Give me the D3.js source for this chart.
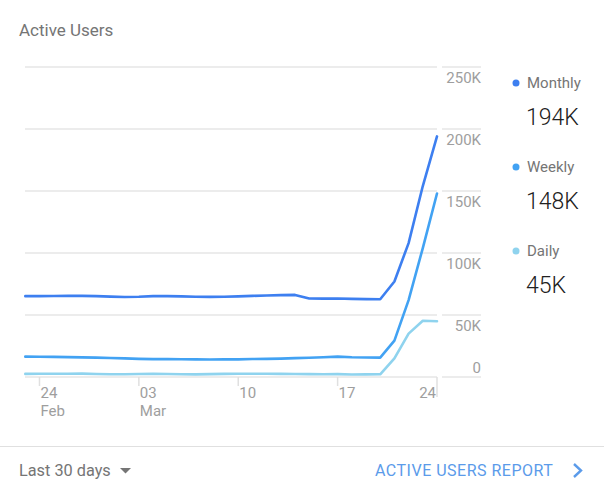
<!DOCTYPE html>
<html><head><meta charset="utf-8">
<script src="https://cdn.jsdelivr.net/npm/d3@7"></script>
<style>
html,body{margin:0;padding:0;background:#fff;}
svg{display:block;font-family:Roboto,"Open Sans",sans-serif;}
</style></head>
<body>
<svg id="c" width="604" height="491"></svg>
<script>
const dates = ["2019-02-23","2019-02-24","2019-02-25","2019-02-26","2019-02-27","2019-02-28",
"2019-03-01","2019-03-02","2019-03-03","2019-03-04","2019-03-05","2019-03-06","2019-03-07",
"2019-03-08","2019-03-09","2019-03-10","2019-03-11","2019-03-12","2019-03-13","2019-03-14",
"2019-03-15","2019-03-16","2019-03-17","2019-03-18","2019-03-19","2019-03-20","2019-03-21",
"2019-03-22","2019-03-23","2019-03-24"];
const monthly = [65200,65200,65300,65400,65400,65200,64800,64500,64700,65200,65200,65000,64700,64600,64700,
65000,65400,65700,66000,66200,63300,63200,63300,63000,62800,62700,77000,108000,154000,194000];
const weekly = [16400,16300,16200,16000,15800,15600,15300,15000,14600,14400,14500,14300,14200,14100,14200,
14200,14500,14600,14800,15200,15500,15900,16400,15900,15700,15600,29300,62000,104000,148000];
const daily = [2500,2600,2600,2600,2700,2400,2200,2200,2400,2500,2400,2200,2100,2300,2500,
2600,2600,2600,2500,2400,2300,2200,2300,2000,2100,2200,15000,35000,45400,45000];
const seriesNames = ["Monthly","Weekly","Daily"];
const seriesTotals = ["194K","148K","45K"];
const seriesColors = ["#3d7ff0","#42a2f3","#8fd3ee"];
const yTicks = [0,50000,100000,150000,200000,250000];
const yTickLabels = ["0","50K","100K","150K","200K","250K"];
const xTicks = ["2019-02-24","2019-03-03","2019-03-10","2019-03-17","2019-03-24"];
const xTickDays = ["24","03","10","17","24"];
const xTickMonths = ["Feb","Mar","","",""];

const parse = d3.utcParse("%Y-%m-%d");
const svg = d3.select("#c");
const x = d3.scaleUtc().domain([parse(dates[0]), parse(dates[dates.length-1])]).range([25.3, 437]);
const y = d3.scaleLinear().domain([0,250000]).range([377, 67]);

// title
svg.append("text").attr("x",19).attr("y",36).attr("font-size",17).attr("fill","#757575").text("Active Users");

// gridlines
const grid = svg.append("g");
yTicks.forEach((t,i)=>{
  grid.append("line").attr("x1",25).attr("x2",437).attr("y1",y(t)).attr("y2",y(t))
    .attr("stroke","#e6e6e6").attr("stroke-width",1.5);
  grid.append("line").attr("x1",442).attr("x2",481).attr("y1",y(t)).attr("y2",y(t))
    .attr("stroke","#e6e6e6").attr("stroke-width",1.5);
  grid.append("text").attr("x",481).attr("y", t===0 ? y(t)-4 : y(t)+16)
    .attr("text-anchor","end").attr("font-size",15).attr("fill","#9e9e9e").text(yTickLabels[i]);
});

// x ticks
xTicks.forEach((d,i)=>{
  const xx = x(parse(d));
  const last = i===xTicks.length-1;
  grid.append("line").attr("x1",xx).attr("x2",xx).attr("y1",377).attr("y2", last?397:386)
    .attr("stroke","#e0e0e0").attr("stroke-width",1.5);
  const tx = last ? xx-1 : xx+1;
  const anchor = last ? "end" : "start";
  grid.append("text").attr("x",tx).attr("y",398).attr("text-anchor",anchor)
    .attr("font-size",15).attr("fill","#9e9e9e").text(xTickDays[i]);
  if (xTickMonths[i]) grid.append("text").attr("x",tx).attr("y",416).attr("text-anchor",anchor)
    .attr("font-size",15).attr("fill","#9e9e9e").text(xTickMonths[i]);
});

// lines
const line = d3.line().x((d,i)=>x(parse(dates[i]))).y(d=>y(d));
[monthly,weekly,daily].slice().reverse().forEach((s,k)=>{
  const idx = 2-k;
  svg.append("path").datum(s).attr("d",line).attr("fill","none")
    .attr("stroke",seriesColors[idx]).attr("stroke-width",2.6)
    .attr("stroke-linejoin","round").attr("stroke-linecap","round");
});

// legend
seriesNames.forEach((n,i)=>{
  const base = 83 + i*84;
  svg.append("circle").attr("cx",516).attr("cy",base).attr("r",3.5).attr("fill",seriesColors[i]);
  svg.append("text").attr("x",527).attr("y",base+5).attr("font-size",15).attr("fill","#757575").text(n);
  svg.append("text").attr("x",526).attr("y",base+42).attr("font-size",23).attr("font-weight",300).attr("fill","#212121").text(seriesTotals[i]);
});

// footer
svg.append("line").attr("x1",0).attr("x2",604).attr("y1",446.5).attr("y2",446.5).attr("stroke","#e0e0e0").attr("stroke-width",1);
svg.append("text").attr("x",19).attr("y",476).attr("font-size",16.3).attr("fill","#757575").text("Last 30 days");
svg.append("path").attr("d","M120,468 L131,468 L125.5,473.5 Z").attr("fill","#757575");
svg.append("text").attr("x",375).attr("y",476).attr("font-size",16).attr("letter-spacing",0.5).attr("fill","#5b9bea").text("ACTIVE USERS REPORT");
svg.append("path").attr("d","M574,464 L581,470.5 L574,477").attr("fill","none").attr("stroke","#5b9bea").attr("stroke-width",2.4);
</script>
</body></html>
